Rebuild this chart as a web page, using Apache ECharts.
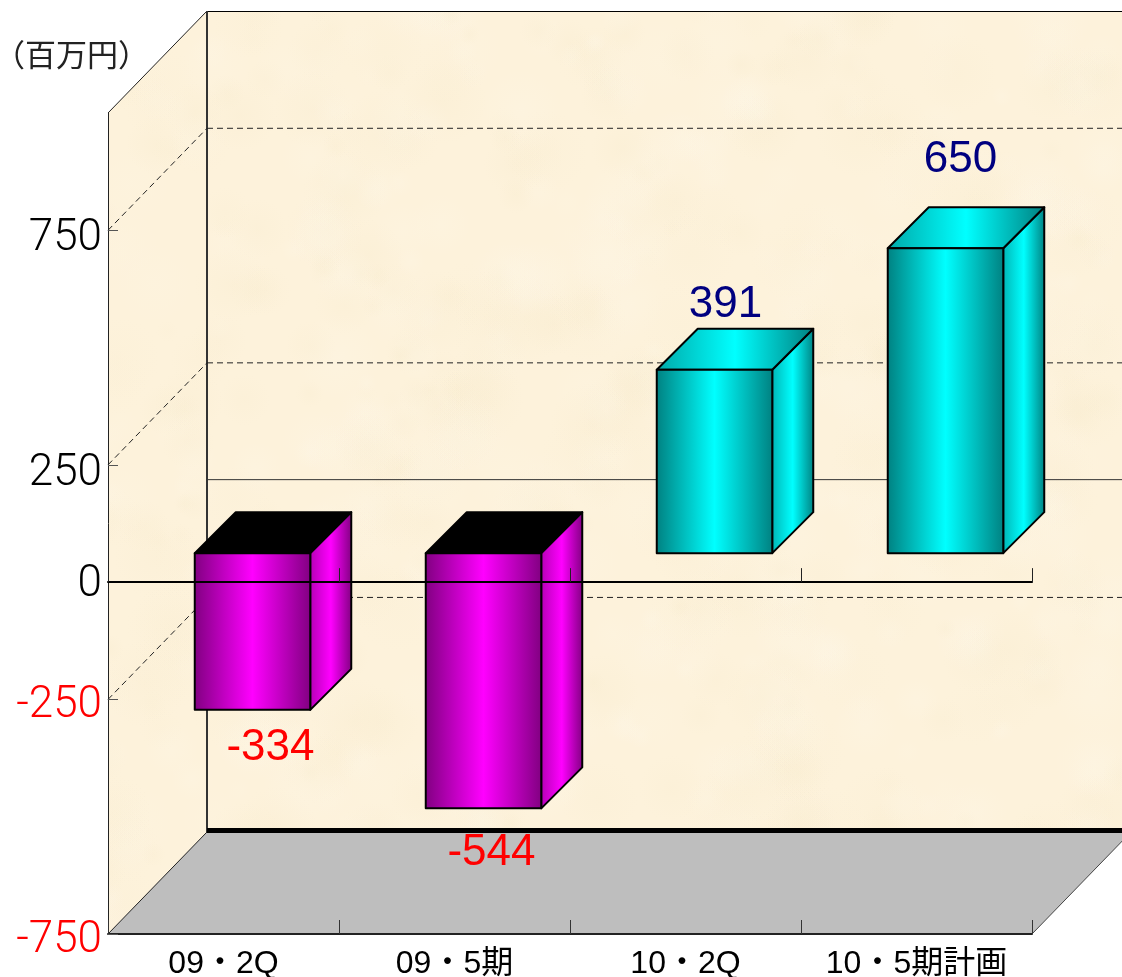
<!DOCTYPE html>
<html>
<head>
<meta charset="utf-8">
<style>html,body{margin:0;padding:0;background:#fff}#c{width:1122px;height:977px}</style>
<script src="https://cdn.jsdelivr.net/npm/echarts@6/dist/echarts.min.js"></script>
</head>
<body>
<div id="c"></div>
<script>
// ---- data ----
const categories = ['09・2Q', '09・5期', '10・2Q', '10・5期計画'];
const values = [-334, -544, 391, 650];
const yTickLabels = [-750, -250, 0, 250, 750];
const yTickMarks = [-750, -250, 250, 750];
const backDashedLines = [-250, 250, 750];
const backSolidLines = [0];

// ---- styling offsets (pixels) ----
const labelNudges = [[18, 38], [8, 45], [11, -65], [15, -88]];
const DEPTH = [99, -102];        // axis plane -> back wall
const BAR_SHIFT = [29, -29];     // axis plane -> front of the bars
const BAR_DEPTH = [41, -41];     // front -> back of a bar

// parchment texture (seeded, decoration only)
function parchment() {
  const c = document.createElement('canvas');
  c.width = 1122; c.height = 977;
  const g = c.getContext('2d');
  g.fillStyle = '#FDF2DB';
  g.fillRect(0, 0, c.width, c.height);
  let s = 12345;
  const r = () => (s = (s * 16807) % 2147483647) / 2147483647;
  for (let i = 0; i < 900; i++) {
    const x = r() * c.width, y = r() * c.height, R = 10 + r() * 36;
    const col = r() < 0.5 ? '245,232,200' : '255,248,236';
    const a = 0.06 + r() * 0.16;
    const gr = g.createRadialGradient(x, y, 0, x, y, R);
    gr.addColorStop(0, 'rgba(' + col + ',' + a + ')');
    gr.addColorStop(1, 'rgba(' + col + ',0)');
    g.fillStyle = gr;
    g.fillRect(x - R, y - R, 2 * R, 2 * R);
  }
  return c;
}
const wallFill = { image: parchment(), repeat: 'repeat' };

const hGrad = (a, b, c) => ({
  type: 'linear', x: 0, y: 0, x2: 1, y2: 0,
  colorStops: [{ offset: 0, color: a }, { offset: 0.5, color: b }, { offset: 1, color: c }]
});
const FACES = {
  pos: { front: hGrad('#008080', '#00FFFF', '#008080'), side: hGrad('#00B4B4', '#00FFFF', '#008080'), top: hGrad('#00A8A8', '#00FFFF', '#008080'), text: '#000080' },
  neg: { front: hGrad('#800080', '#FF00FF', '#800080'), side: hGrad('#B400B4', '#FF00FF', '#800080'), top: '#000000', text: '#FF0000' }
};
const EDGE = { stroke: '#000', lineWidth: 2, lineJoin: 'round' };

function poly(points, style, z2) {
  return { type: 'polygon', shape: { points }, style, z2: z2 || 0, silent: true };
}
function seg(x1, y1, x2, y2, style) {
  return { type: 'line', shape: { x1, y1, x2, y2 }, style: Object.assign({ fill: null }, style), silent: true };
}

function renderRoom(params, api) {
  const cs = params.coordSys;
  const L = cs.x, R = cs.x + cs.width, T = cs.y, B = cs.y + cs.height;
  const dx = DEPTH[0], dy = DEPTH[1];
  const far = 1200;
  const kids = [];
  // back wall, left wall, floor
  kids.push(poly([[L + dx, T + dy], [far, T + dy], [far, B + dy], [L + dx, B + dy]], { fill: wallFill }));
  kids.push(poly([[L, T], [L + dx, T + dy], [L + dx, B + dy], [L, B]], { fill: wallFill }));
  kids.push(poly([[L, B], [L + dx, B + dy], [R + dx, B + dy], [R, B]], { fill: '#BEBEBE' }));
  // outlines
  const thin = { stroke: '#222', lineWidth: 1 };
  kids.push(seg(L, T, L + dx, T + dy, thin));
  kids.push(seg(L + dx, T + dy + 0.5, far, T + dy + 0.5, { stroke: '#000', lineWidth: 1 }));
  kids.push(seg(L + dx, T + dy, L + dx, B + dy, { stroke: '#333', lineWidth: 2 }));
  kids.push(seg(L, B, L + dx, B + dy, thin));
  kids.push(seg(R, B, R + dx, B + dy, { stroke: '#444', lineWidth: 1 }));
  kids.push(seg(L + dx, B + dy - 1.5, far, B + dy - 1.5, { stroke: '#000', lineWidth: 5 }));
  // grid lines
  backDashedLines.forEach(v => {
    const y = api.coord([0, v])[1];
    const dash = { stroke: '#222', lineWidth: 1, lineDash: [6, 4] };
    kids.push(seg(L, y, L + dx, y + dy, dash));
    kids.push(seg(L + dx, y + dy, far, y + dy, dash));
  });
  backSolidLines.forEach(v => {
    const y = api.coord([0, v])[1];
    kids.push(seg(L + dx, y + dy - 0.5, far, y + dy - 0.5, { stroke: '#333', lineWidth: 1 }));
  });
  return { type: 'group', children: kids };
}

function renderBar(params, api) {
  const i = api.value(0), v = api.value(1);
  const p = api.coord([i, v]), z = api.coord([i, 0]);
  const w = api.size([1, 0])[0] * 0.5;
  const x0 = p[0] + BAR_SHIFT[0] - w / 2, x1 = x0 + w;
  const yA = z[1] + BAR_SHIFT[1], yB = p[1] + BAR_SHIFT[1];
  const yt = Math.min(yA, yB), yb = Math.max(yA, yB);
  const dx = BAR_DEPTH[0], dy = BAR_DEPTH[1];
  const f = v >= 0 ? FACES.pos : FACES.neg;
  const n = labelNudges[params.dataIndex];
  const edgeY = v >= 0 ? yt : yb;
  return {
    type: 'group',
    children: [
      poly([[x1, yt], [x1 + dx, yt + dy], [x1 + dx, yb + dy], [x1, yb]], Object.assign({ fill: f.side }, EDGE)),
      poly([[x0, yt], [x0 + dx, yt + dy], [x1 + dx, yt + dy], [x1, yt]], Object.assign({ fill: f.top }, EDGE)),
      poly([[x0, yt], [x1, yt], [x1, yb], [x0, yb]], Object.assign({ fill: f.front }, EDGE)),
      {
        type: 'text', silent: true, z2: 5,
        style: {
          x: x0 + w / 2 + n[0], y: edgeY + n[1], text: String(v),
          fill: f.text, font: '44px "Liberation Sans", sans-serif',
          align: 'center', verticalAlign: 'middle'
        }
      }
    ]
  };
}

const tickFont = { fontSize: 44, fontWeight: 300, fontFamily: 'Roboto, "Liberation Sans"' };
const chart = echarts.init(document.getElementById('c'), null, { renderer: 'canvas' });
chart.setOption({
  animation: false,
  backgroundColor: '#fff',
  title: {
    text: '（百万円）', left: -11, top: 34,
    textStyle: { fontFamily: '"Noto Sans CJK JP"', fontSize: 31, fontWeight: 'normal', color: '#222' }
  },
  grid: { left: 108, top: 113, width: 924, height: 821, containLabel: false, outerBoundsMode: 'none' },
  xAxis: [
    {
      type: 'category', data: categories, position: 'bottom', z: 10,
      axisLine: { show: true, onZero: false, lineStyle: { color: '#222', width: 2 } },
      axisTick: { show: true, inside: true, length: 14, lineStyle: { color: '#333', width: 1 } },
      axisLabel: { margin: 14, fontSize: 32, color: '#000', fontFamily: '"Liberation Sans","Noto Sans CJK JP"', interval: 0 }
    },
    {
      type: 'category', data: categories, position: 'bottom', z: 10,
      axisLine: { show: true, onZero: true, lineStyle: { color: '#000', width: 2 } },
      axisTick: { show: true, inside: true, length: 14, lineStyle: { color: '#222', width: 1 } },
      axisLabel: { show: false }
    }
  ],
  yAxis: {
    type: 'value', min: -750, max: 1000, interval: 250, z: 10,
    splitLine: { show: false },
    axisLine: { show: true, onZero: false, lineStyle: { color: '#222', width: 1 } },
    axisTick: { show: true, inside: true, length: 10, customValues: yTickMarks, lineStyle: { color: '#555', width: 1 } },
    axisLabel: {
      customValues: yTickLabels, margin: 6, verticalAlign: 'top',
      formatter: v => {
        const n = Number(v);
        return '{' + (n < 0 ? 'neg' : n === 0 ? 'zero' : 'pos') + '|' + n + '}';
      },
      rich: {
        pos: Object.assign({ color: '#000', lineHeight: 18 }, tickFont),
        neg: Object.assign({ color: '#FF0000', lineHeight: 14 }, tickFont),
        zero: Object.assign({ color: '#000', lineHeight: 6 }, tickFont)
      }
    }
  },
  series: [
    { type: 'custom', xAxisIndex: 0, z: 1, silent: true, clip: false, renderItem: renderRoom, data: [[0, 0]], encode: { x: 0, y: 1 } },
    {
      type: 'custom', xAxisIndex: 0, z: 2, silent: true, clip: false, renderItem: renderBar,
      data: values.map((v, i) => [i, v]), encode: { x: 0, y: 1 }
    }
  ]
});
</script>
</body>
</html>
